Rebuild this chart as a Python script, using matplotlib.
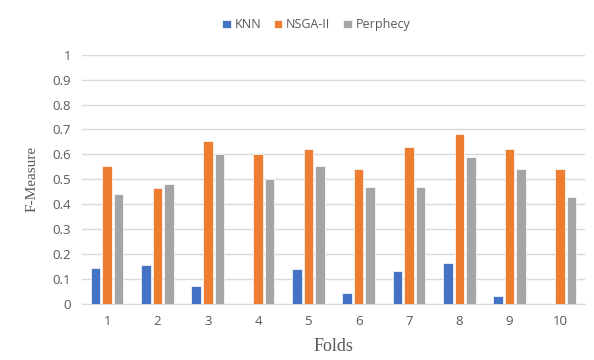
import numpy as np
import matplotlib.pyplot as plt

folds = [1, 2, 3, 4, 5, 6, 7, 8, 9, 10]
knn = [0.145, 0.155, 0.07, 0.0, 0.14, 0.045, 0.13, 0.162, 0.032, 0.0]
nsga = [0.555, 0.465, 0.652, 0.6, 0.62, 0.54, 0.628, 0.68, 0.62, 0.54]
perphecy = [0.44, 0.483, 0.6, 0.5, 0.555, 0.468, 0.468, 0.588, 0.54, 0.43]

fig = plt.figure(figsize=(5.94, 3.6), dpi=100)
ax = fig.add_axes([0.138, 0.156, 0.847, 0.692])

x = np.arange(len(folds)) + 1
w = 0.19
off = 0.23
ax.bar(x - off, knn, w, color='#4472C4', edgecolor='white', linewidth=0.5, label='KNN', zorder=3)
ax.bar(x, nsga, w, color='#ED7D31', edgecolor='white', linewidth=0.5, label='NSGA-II', zorder=3)
ax.bar(x + off, perphecy, w, color='#A5A5A5', edgecolor='white', linewidth=0.5, label='Perphecy', zorder=3)

ax.set_xlim(0.5, 10.5)
ax.set_ylim(0, 1)
ax.set_yticks(np.arange(0, 1.01, 0.1))
ax.set_yticklabels(['0', '0.1', '0.2', '0.3', '0.4', '0.5', '0.6', '0.7', '0.8', '0.9', '1'])
ax.set_xticks(x)
ax.set_xticklabels([str(f) for f in folds])
ax.grid(axis='y', color='#D9D9D9', linewidth=1, zorder=0)
for s in ['top', 'right', 'left']:
    ax.spines[s].set_visible(False)
ax.spines['bottom'].set_color('#D9D9D9')
ax.tick_params(length=0, colors='#595959', labelsize=9.5, pad=8)
for lab in ax.get_xticklabels() + ax.get_yticklabels():
    lab.set_family('Open Sans')

ax.set_xlabel('Folds', family='Liberation Serif', fontsize=13, color='#595959', labelpad=7)
ax.set_ylabel('F-Measure', family='Liberation Serif', fontsize=11, color='#595959', labelpad=10)

ax.legend(loc='center', bbox_to_anchor=(0.465, 1.12), ncol=3, frameon=False,
          prop={'family': 'Open Sans', 'size': 9}, labelcolor='#595959',
          handlelength=0.7, handleheight=0.7, handletextpad=0.3, columnspacing=1.0)

fig.savefig('out.png', dpi=100)
